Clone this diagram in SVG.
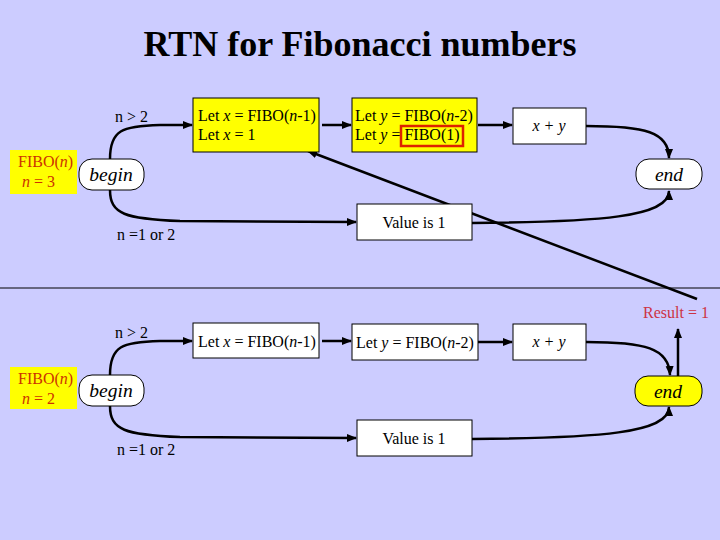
<svg xmlns="http://www.w3.org/2000/svg" width="720" height="540" viewBox="0 0 720 540">
<defs>
<marker id="ah" viewBox="0 0 10 10" refX="9" refY="5" markerWidth="4" markerHeight="4" orient="auto" markerUnits="strokeWidth">
<path d="M0,1 L10,5 L0,9 z" fill="#000"/>
</marker>
<style>
text{font-family:"Liberation Serif","Times New Roman",serif;fill:#000}
.t{font-size:16px}
.it{font-style:italic}
.red{fill:#CC3300}
.box{stroke:#000;stroke-width:1}
.w{fill:#fff}
.y{fill:#ffff00}
.c{fill:none;stroke:#000;stroke-width:2.5;marker-end:url(#ah)}
</style>
</defs>
<rect width="720" height="540" fill="#ccccff"/>
<text x="360" y="56" text-anchor="middle" font-size="36" font-weight="bold">RTN for Fibonacci numbers</text>
<line x1="0" y1="288" x2="720" y2="288" stroke="#000" stroke-width="1"/>

<g id="connectors">
<path class="c" d="M110,159 C110,130 122,126 160,125 L192,125"/>
<path class="c" d="M322,125 L351,125"/>
<path class="c" d="M478,125 L512,125"/>
<path class="c" d="M586,126 C645,126 669,132 669,158"/>
<path class="c" d="M110,190 C110,214 125,219 180,221 L356,222"/>
<path class="c" d="M472,223 C600,222 669,217 669,191"/>
<path class="c" d="M697,299 L308,151"/>

<path class="c" d="M110,375 C110,346 122,342 160,341 L192,341"/>
<path class="c" d="M322,341 L351,341"/>
<path class="c" d="M478,342 L512,342"/>
<path class="c" d="M586,342 C645,342 669,348 670,375"/>
<path class="c" d="M110,406 C110,430 125,435 180,437 L356,438"/>
<path class="c" d="M472,439 C600,438 669,433 669,407"/>
<path class="c" d="M678,376 L678,329"/>
</g>

<g id="top-fibo">
<rect x="10" y="150" width="67" height="44" fill="#ffff00"/>
<text x="18" y="167" class="t red">FIBO(<tspan class="it">n</tspan>)</text>
<text x="22" y="187" class="t red"><tspan class="it">n</tspan> = 3</text>
</g>
<g id="top-begin">
<rect x="79" y="159" width="65" height="31" rx="13" class="box w"/>
<text x="111" y="181" text-anchor="middle" font-size="19.5" class="it">begin</text>
</g>
<text x="115" y="122" class="t">n &gt; 2</text>
<text x="117" y="240" class="t">n =1 or 2</text>
<g id="top-letx">
<rect x="193" y="98" width="126" height="54" class="box y"/>
<text x="198" y="121" class="t">Let <tspan class="it">x</tspan> = FIBO(<tspan class="it">n</tspan>-1)</text>
<text x="198" y="140" class="t">Let <tspan class="it">x</tspan> = 1</text>
</g>
<g id="top-lety">
<rect x="352" y="98" width="125" height="54" class="box y"/>
<text x="355" y="121" class="t">Let <tspan class="it">y</tspan> = FIBO(<tspan class="it">n</tspan>-2)</text>
<text x="355" y="140" class="t">Let <tspan class="it">y</tspan> = FIBO(1)</text>
<rect x="401" y="126" width="62" height="20" fill="none" stroke="#dd2200" stroke-width="2.5"/>
</g>
<g id="top-sum">
<rect x="513" y="108" width="73" height="36" class="box w"/>
<text x="549" y="131" text-anchor="middle" class="t it">x + y</text>
</g>
<g id="top-end">
<rect x="636" y="159" width="66" height="30" rx="13" class="box w"/>
<text x="669" y="181" text-anchor="middle" font-size="19.5" class="it">end</text>
</g>
<g id="top-value">
<rect x="357" y="204" width="115" height="36" class="box w"/>
<text x="414" y="228" text-anchor="middle" class="t">Value is 1</text>
</g>

<g id="bot-fibo">
<rect x="10" y="367" width="67" height="42" fill="#ffff00"/>
<text x="18" y="384" class="t red">FIBO(<tspan class="it">n</tspan>)</text>
<text x="22" y="404" class="t red"><tspan class="it">n</tspan> = 2</text>
</g>
<g id="bot-begin">
<rect x="79" y="375" width="65" height="31" rx="13" class="box w"/>
<text x="111" y="397" text-anchor="middle" font-size="19.5" class="it">begin</text>
</g>
<text x="115" y="338" class="t">n &gt; 2</text>
<text x="117" y="455" class="t">n =1 or 2</text>
<g id="bot-letx">
<rect x="193" y="323" width="126" height="35" class="box w"/>
<text x="198" y="347" class="t">Let <tspan class="it">x</tspan> = FIBO(<tspan class="it">n</tspan>-1)</text>
</g>
<g id="bot-lety">
<rect x="352" y="324" width="126" height="36" class="box w"/>
<text x="356" y="348" class="t">Let <tspan class="it">y</tspan> = FIBO(<tspan class="it">n</tspan>-2)</text>
</g>
<g id="bot-sum">
<rect x="513" y="324" width="73" height="36" class="box w"/>
<text x="549" y="347" text-anchor="middle" class="t it">x + y</text>
</g>
<g id="bot-end">
<rect x="635" y="376" width="67" height="30" rx="13" class="box y"/>
<text x="668" y="398" text-anchor="middle" font-size="19.5" class="it">end</text>
</g>
<g id="bot-value">
<rect x="357" y="420" width="115" height="36" class="box w"/>
<text x="414" y="444" text-anchor="middle" class="t">Value is 1</text>
</g>
<text x="643" y="318" class="t" style="fill:#cc3344">Result = 1</text>
</svg>
